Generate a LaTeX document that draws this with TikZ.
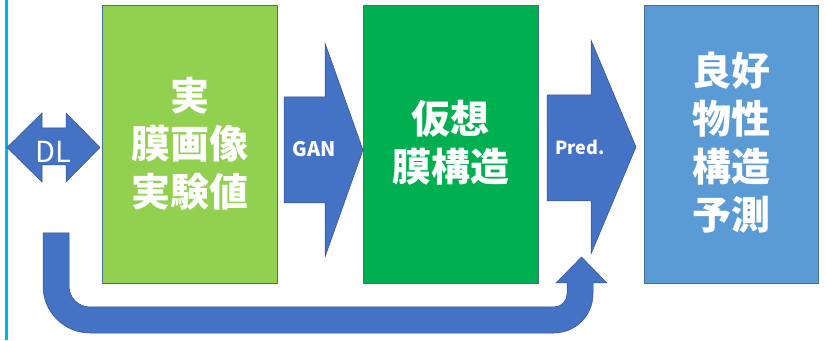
\documentclass[tikz,border=0pt]{standalone}
\usepackage{fontspec}
\newfontfamily\jp{Noto Sans CJK JP}
\definecolor{arrowblue}{RGB}{68,114,196}
\definecolor{arrowedge}{RGB}{47,82,143}
\definecolor{lightgreen}{RGB}{146,208,80}
\definecolor{darkgreen}{RGB}{0,176,80}
\definecolor{boxblue}{RGB}{91,155,213}
\definecolor{boxedge}{RGB}{65,113,156}
\definecolor{cyanline}{RGB}{0,176,240}
\tikzset{
  box/.style={draw=boxedge, line width=0.8pt},
  barrow/.style={fill=arrowblue, draw=arrowedge, line width=0.5pt, line join=miter},
  bigtext/.style={text=white, font=\jp\bfseries\fontsize{39}{48}\selectfont, align=center, inner sep=0pt},
  lbl/.style={text=white, inner sep=0pt}
}
\begin{document}
\begin{tikzpicture}[x=1pt,y=1pt]
\useasboundingbox (0,0) rectangle (827,340);
% left cyan line
\draw[cyanline, line width=2.5pt] (6.5,0) -- (6.5,340);
% boxes
\draw[box, fill=lightgreen] (102,57) rectangle (277,335);
\draw[box, fill=darkgreen] (363,57) rectangle (538,335);
\draw[box, fill=boxblue] (644,57) rectangle (818,335);
\node[bigtext] (t1) at (189.5,196.5) {実\\膜画像\\実験値};
\node[bigtext] (t2) at (450.5,197.5) {仮想\\膜構造};
\node[bigtext] (t3) at (731,197) {良好\\物性\\構造\\予測};
% DL double arrow
\draw[barrow] (7,192.5) -- (42,227) -- (42,212) -- (66,212) -- (66,227) -- (100,192.5)
  -- (66,158) -- (66,175) -- (42,175) -- (42,158) -- cycle;
\node[lbl, font=\jp\fontsize{29}{32}\selectfont] (dl) at (53.5,188.5) {DL};
% GAN arrow
\draw[barrow] (284,243) -- (325,243) -- (325,297) -- (363,190) -- (325,83) -- (325,137) -- (284,137) -- cycle;
\node[lbl, font=\jp\bfseries\fontsize{20}{24}\selectfont] (gan) at (314,190.5) {GAN};
% Pred arrow
\draw[barrow] (547,245) -- (591,245) -- (591,300) -- (636,193) -- (591,86) -- (591,139) -- (547,139) -- cycle;
\node[lbl, font=\jp\bfseries\fontsize{18}{22}\selectfont] (pred) at (580,193) {Pred.};
% U-turn arrow
\draw[barrow] (43,107) -- (43,54) arc (180:270:47) -- (554,7) arc (270:360:39) -- (593,57)
  -- (607,57) -- (581.5,83) -- (556,57) -- (567,57) -- (567,46) arc (0:-90:13)
  -- (90,33) arc (270:180:21) -- (69,107) -- cycle;
\end{tikzpicture}
\end{document}
